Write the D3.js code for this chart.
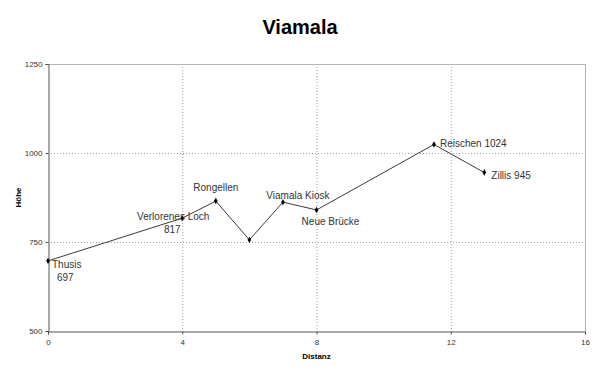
<!DOCTYPE html>
<html>
<head>
<meta charset="utf-8">
<script src="https://cdn.jsdelivr.net/npm/d3@7"></script>
<style>
  body { margin: 0; background: #fff; }
  svg { display: block; font-family: Arial, "Liberation Sans", sans-serif; }
</style>
</head>
<body>
<svg id="chart"></svg>
<script>
  // stops along the gorge
  const names = ['Thusis\n697', 'Verlorenes Loch\n817', 'Rongellen', '', 'Viamala Kiosk', 'Neue Brücke', 'Reischen 1024', 'Zillis 945'];
  const distanz = [0, 4, 5, 6, 7, 8, 11.5, 13];
  const hoehe = [697, 817, 865, 756, 862, 840, 1024, 945];
  const xTicks = [0, 4, 8, 12, 16];
  const yTicks = [500, 750, 1000, 1250];

  // label placement relative to the point: [dx, dy, anchor, second line dx]
  const placement = [
    [4, 7, 'start', 5],
    [-9, 2, 'middle', -1],
    [0, -10, 'middle', 0],
    null,
    [15, -3, 'middle', 0],
    [14, 15, 'middle', 0],
    [6, 3, 'start', 0],
    [7, 6, 'start', 0]
  ];

  const width = 600, height = 374;
  const margin = { top: 64, right: 15, bottom: 43, left: 48 };

  const svg = d3.select('#chart')
    .attr('width', width)
    .attr('height', height);

  const x = d3.scaleLinear().domain([0, 16]).range([margin.left, width - margin.right]);
  const y = d3.scaleLinear().domain([500, 1250]).range([height - margin.bottom, margin.top]);

  const data = distanz.map((d, i) => ({ x: d, y: hoehe[i], name: names[i], place: placement[i] }));

  // grid
  svg.append('g')
    .selectAll('line')
    .data(xTicks.slice(1, -1))
    .join('line')
    .attr('x1', d => x(d) + 0.5).attr('x2', d => x(d) + 0.5)
    .attr('y1', y(1250)).attr('y2', y(500))
    .attr('stroke', '#a0a0a0').attr('stroke-dasharray', '1,2');

  svg.append('g')
    .selectAll('line')
    .data(yTicks.slice(1, -1))
    .join('line')
    .attr('y1', d => y(d) + 0.5).attr('y2', d => y(d) + 0.5)
    .attr('x1', x(0)).attr('x2', x(16))
    .attr('stroke', '#a0a0a0').attr('stroke-dasharray', '1,2');

  // top and right frame
  svg.append('path')
    .attr('d', `M${x(0)},${y(1250) + 0.5}H${x(16) + 0.5}V${y(500)}`)
    .attr('fill', 'none').attr('stroke', '#b4b4b4');

  // axes
  const xAxis = svg.append('g')
    .attr('transform', `translate(0,${y(500) + 0.5})`)
    .call(d3.axisBottom(x).tickValues(xTicks).tickFormat(d3.format('d')).tickSize(3).tickPadding(5));
  const yAxis = svg.append('g')
    .attr('transform', `translate(${x(0) + 0.5},0)`)
    .call(d3.axisLeft(y).tickValues(yTicks).tickFormat(d3.format('d')).tickSize(3).tickPadding(3));

  [xAxis, yAxis].forEach(g => {
    g.select('.domain').attr('stroke', '#555');
    g.selectAll('.tick line').attr('stroke', '#555');
    g.selectAll('.tick text')
      .attr('font-size', 8)
      .attr('font-family', 'Arial, "Liberation Sans", sans-serif')
      .attr('fill', '#333');
  });

  // profile line
  const line = d3.line().x(d => x(d.x)).y(d => y(d.y));
  svg.append('path')
    .datum(data)
    .attr('d', line)
    .attr('fill', 'none')
    .attr('stroke', '#3a3a3a')
    .attr('stroke-width', 1);

  svg.append('g')
    .selectAll('path')
    .data(data)
    .join('path')
    .attr('transform', d => `translate(${x(d.x)},${y(d.y)})`)
    .attr('d', d3.symbol(d3.symbolDiamond, 12))
    .attr('fill', '#000');

  // point labels
  svg.append('g')
    .attr('font-size', 10)
    .attr('fill', '#333')
    .selectAll('text')
    .data(data.filter(d => d.place))
    .join('text')
    .attr('y', d => y(d.y) + d.place[1])
    .attr('text-anchor', d => d.place[2])
    .each(function(d) {
      const t = d3.select(this);
      const lines = d.name.split('\n');
      t.append('tspan').attr('x', x(d.x) + d.place[0]).text(lines[0]);
      if (lines[1]) {
        t.append('tspan')
          .attr('x', x(d.x) + d.place[0] + d.place[3])
          .attr('dy', 13)
          .text(lines[1]);
      }
    });

  // titles
  svg.append('text')
    .attr('x', width / 2).attr('y', 34)
    .attr('text-anchor', 'middle')
    .attr('font-size', 20).attr('font-weight', 'bold')
    .attr('fill', '#000')
    .text('Viamala');

  svg.append('text')
    .attr('x', x(8)).attr('y', 359)
    .attr('text-anchor', 'middle')
    .attr('font-size', 8).attr('font-weight', 'bold')
    .attr('fill', '#000')
    .text('Distanz');

  svg.append('text')
    .attr('transform', `translate(21,${(y(500) + y(1250)) / 2}) rotate(-90)`)
    .attr('text-anchor', 'middle')
    .attr('font-size', 8).attr('font-weight', 'bold')
    .attr('fill', '#000')
    .text('Höhe');
</script>
</body>
</html>
